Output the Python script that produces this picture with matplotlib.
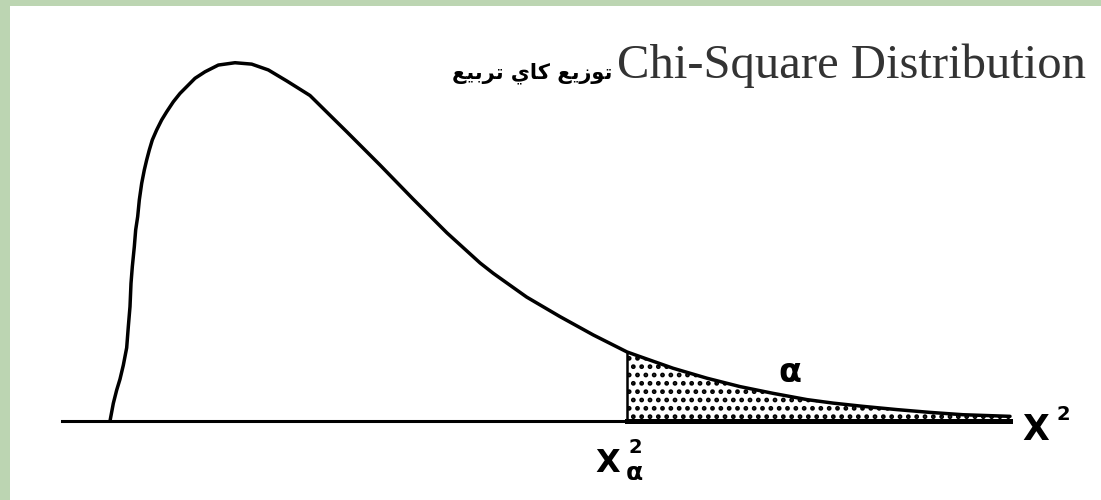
import matplotlib
matplotlib.use('Agg')
import matplotlib.pyplot as plt
import matplotlib.patches as patches
import numpy as np

# density curve, read point by point
chi2 = [0.0, 0.083, 0.167, 0.25, 0.333, 0.417, 0.458, 0.5, 0.525, 0.558,
        0.608, 0.642, 0.692, 0.733, 0.792, 0.858, 0.917, 0.983, 1.058, 1.167,
        1.292, 1.417, 1.583, 1.75, 1.958, 2.125, 2.375, 2.708, 3.125, 3.542,
        3.958, 4.425, 5.0, 5.5, 5.925, 6.75, 7.575, 8.425, 9.25, 9.583,
        10.417, 11.25, 12.083, 12.925, 13.25, 14.075, 14.925, 15.75, 16.575, 17.425,
        18.075, 18.825, 19.675, 20.5, 21.325, 22.5]
density = [0.0, 0.0076, 0.0133, 0.0180, 0.0240, 0.0315, 0.0406, 0.0492, 0.0592, 0.0664,
           0.0750, 0.0822, 0.0879, 0.0951, 0.1022, 0.1080, 0.1123, 0.1166, 0.1209, 0.1252,
           0.1295, 0.1330, 0.1373, 0.1409, 0.1445, 0.1474, 0.1502, 0.1531, 0.1541, 0.1535,
           0.1510, 0.1462, 0.1400, 0.1315, 0.1243, 0.1101, 0.0955, 0.0809, 0.0680, 0.0635,
           0.0533, 0.0449, 0.0370, 0.0297, 0.0277, 0.0227, 0.0184, 0.0148, 0.0119, 0.0092,
           0.0077, 0.0063, 0.0049, 0.0037, 0.0027, 0.0020]
critical = 12.925
axis_start = -1.2

title_en = 'Chi-Square Distribution'
# Arabic title in presentation forms, visual order
title_ar = '\uFECA\uFEF4\uFE91\uFEAE\uFE97 \uFEF1\uFE8E\uFEDB \uFECA\uFEF3\uFEAF\uFEEE\uFE97'

x = np.array(chi2)
y = np.array(density)

fig = plt.figure(figsize=(11.01, 5.0), dpi=100)
fig.patch.set_facecolor('#bcd5b2')
fig.patches.append(patches.Rectangle((10 / 1101, 0), 1, 494 / 500, transform=fig.transFigure,
                                     facecolor='white', edgecolor='none', zorder=-5))

ax = fig.add_axes([0, 0, 1, 1])
ax.set_xlim(-2.75, 24.775)
ax.set_ylim(-0.03398, 0.18108)
ax.axis('off')
ax.patch.set_alpha(0)

plt.rcParams['hatch.linewidth'] = 2.2
tail = x >= critical
ax.fill_between(x[tail], 0, y[tail], facecolor='white', edgecolor='black',
                hatch='..', linewidth=0)

ax.plot(x, y, color='black', lw=2.5, solid_joinstyle='round', solid_capstyle='round')
ax.plot([axis_start, x[-1]], [0, 0], color='black', lw=2.2)
ax.plot([critical, x[-1]], [0, 0], color='black', lw=3.6)
ax.plot([critical, critical], [0, y[tail][0]], color='black', lw=1.8)

# axis labels
ax.text(22.8, -0.0082, 'X', fontsize=25, fontweight='bold', ha='left', va='baseline')
ax.text(23.65, 0.0004, '2', fontsize=14, fontweight='bold', ha='left', va='baseline')
ax.text(12.45, -0.0220, 'X', fontsize=23, fontweight='bold', ha='center', va='baseline')
ax.text(12.95, -0.0138, '2', fontsize=14, fontweight='bold', ha='left', va='baseline')
ax.text(12.9, -0.0254, '\u03b1', fontsize=18, fontweight='bold', ha='left', va='baseline')
ax.text(17.0, 0.0210, '\u03b1', fontsize=24, fontweight='bold', ha='center', va='center')

fig.text(617 / 1101, 1 - 78 / 500, title_en, fontsize=35, family='Liberation Serif',
         color='#333333', ha='left', va='baseline')
fig.text(612 / 1101, 1 - 78 / 500, title_ar, fontsize=15, family='DejaVu Sans',
         fontweight='bold', color='black', ha='right', va='baseline')

fig.savefig('out.png', dpi=100, facecolor=fig.get_facecolor())
